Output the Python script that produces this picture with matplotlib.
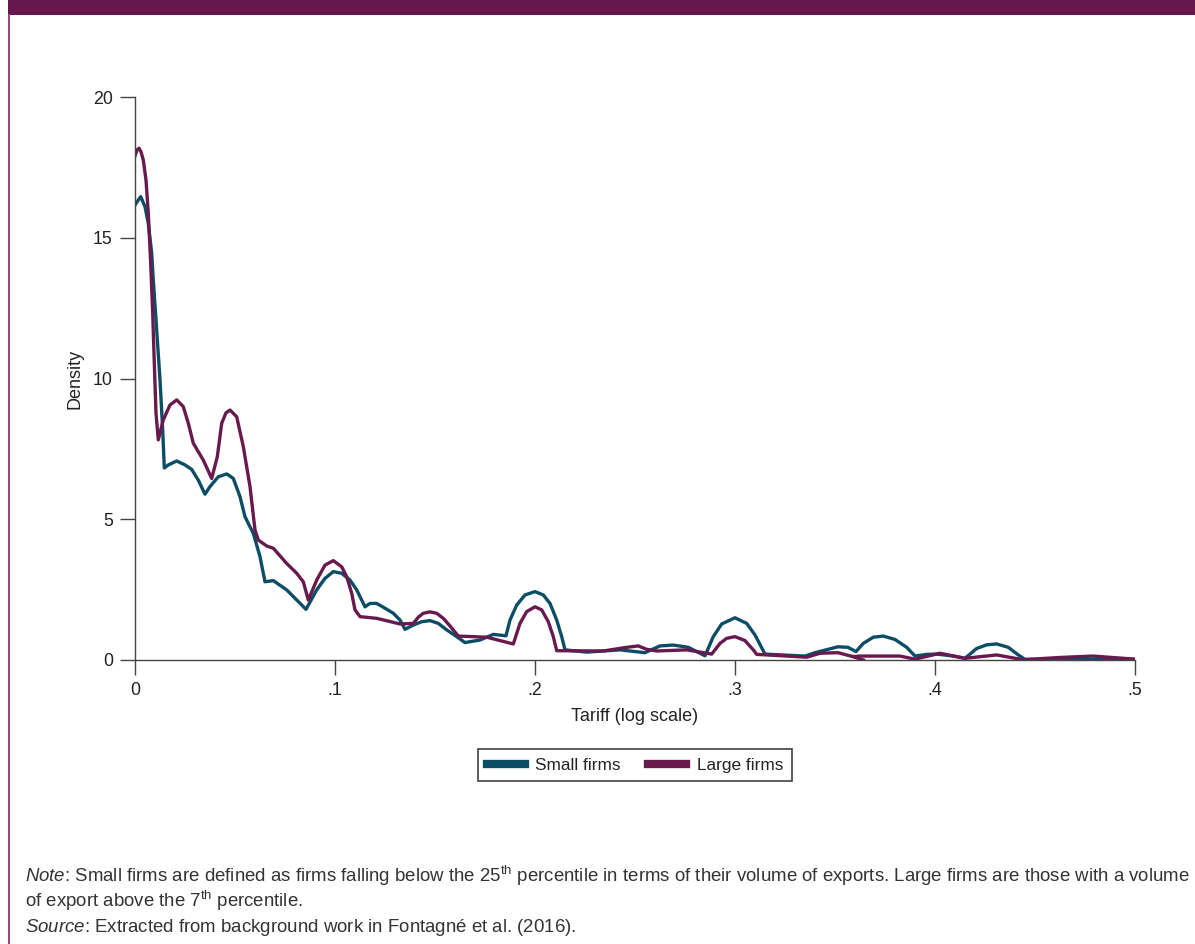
import matplotlib
matplotlib.use("Agg")
import matplotlib.pyplot as plt
from matplotlib.patches import Rectangle
from matplotlib.lines import Line2D

plt.rcParams["font.family"] = ["Liberation Sans", "DejaVu Sans"]
plt.rcParams["mathtext.fontset"] = "custom"
plt.rcParams["mathtext.rm"] = "Liberation Sans"
plt.rcParams["mathtext.it"] = "Liberation Sans:italic"

# kernel density of tariffs, small exporters
small_x = [0.0, 0.00165, 0.00285, 0.005, 0.00665, 0.00835, 0.00915, 0.01085, 0.0125, 0.01385,
           0.01465, 0.01665, 0.02085, 0.025, 0.02835, 0.03165, 0.035, 0.0375, 0.04165, 0.04585,
           0.04915, 0.0525, 0.055, 0.05915, 0.0625, 0.065, 0.06915, 0.07585, 0.0855, 0.09085,
           0.095, 0.09915, 0.10335, 0.1075, 0.11085, 0.115, 0.1175, 0.12085, 0.125, 0.12915,
           0.1325, 0.135, 0.13915, 0.14335, 0.1475, 0.15165, 0.15585, 0.16085, 0.165, 0.1725,
           0.17915, 0.1855, 0.1875, 0.19085, 0.195, 0.2, 0.20415, 0.2075, 0.21085, 0.21335,
           0.215, 0.22585, 0.2425, 0.255, 0.2625, 0.26915, 0.27665, 0.285, 0.28915, 0.29335,
           0.3, 0.30585, 0.31, 0.315, 0.335, 0.34, 0.3455, 0.3515, 0.3565, 0.3605,
           0.36415, 0.36915, 0.37415, 0.38, 0.38585, 0.39, 0.39585, 0.40085, 0.40915, 0.415,
           0.42085, 0.42585, 0.43085, 0.43665, 0.44165, 0.445, 0.4725, 0.5]
small_y = [16.16, 16.34, 16.46, 16.10, 15.51, 14.45, 13.50, 11.72, 9.95, 8.17,
           6.82, 6.93, 7.07, 6.93, 6.77, 6.39, 5.89, 6.16, 6.51, 6.61,
           6.45, 5.80, 5.09, 4.50, 3.67, 2.78, 2.82, 2.49, 1.80, 2.49,
           2.90, 3.14, 3.08, 2.84, 2.49, 1.89, 2.01, 2.01, 1.84, 1.66,
           1.42, 1.09, 1.24, 1.36, 1.40, 1.30, 1.07, 0.83, 0.62, 0.71,
           0.91, 0.86, 1.42, 1.95, 2.31, 2.43, 2.31, 2.01, 1.42, 0.83,
           0.36, 0.28, 0.36, 0.26, 0.50, 0.53, 0.45, 0.15, 0.83, 1.28,
           1.50, 1.30, 0.89, 0.21, 0.14, 0.26, 0.36, 0.47, 0.45, 0.30,
           0.59, 0.81, 0.85, 0.73, 0.45, 0.14, 0.20, 0.21, 0.14, 0.06,
           0.41, 0.54, 0.57, 0.45, 0.18, 0.02, 0.03, 0.02]

# kernel density of tariffs, large exporters
large_x = [0.0, 0.001, 0.002, 0.003, 0.00415, 0.0055, 0.00665, 0.00785, 0.00885, 0.00965,
           0.0105, 0.01165, 0.01415, 0.0175, 0.02085, 0.02415, 0.02665, 0.02915, 0.03415, 0.03835,
           0.04115, 0.04335, 0.0455, 0.0475, 0.05085, 0.05415, 0.0575, 0.06, 0.06165, 0.06585,
           0.06915, 0.07585, 0.08085, 0.08415, 0.08665, 0.09085, 0.095, 0.09915, 0.10335, 0.10585,
           0.10835, 0.11, 0.1125, 0.12085, 0.1325, 0.13915, 0.14165, 0.14415, 0.1475, 0.15085,
           0.15415, 0.1575, 0.16165, 0.17585, 0.18915, 0.1925, 0.19585, 0.2, 0.20335, 0.20665,
           0.20915, 0.21085, 0.23415, 0.24585, 0.25165, 0.25585, 0.26085, 0.27585, 0.28835, 0.2925,
           0.29585, 0.3, 0.305, 0.30915, 0.31085, 0.33585, 0.3425, 0.3515, 0.359, 0.3625,
           0.3825, 0.39, 0.4025, 0.415, 0.43085, 0.444, 0.4625, 0.479, 0.5]
large_y = [17.90, 18.12, 18.18, 18.05, 17.76, 17.05, 15.87, 14.09, 12.32, 10.54,
           8.76, 7.82, 8.53, 9.06, 9.24, 9.00, 8.41, 7.70, 7.10, 6.45,
           7.22, 8.41, 8.78, 8.88, 8.64, 7.58, 6.16, 4.62, 4.26, 4.05,
           3.97, 3.43, 3.08, 2.78, 2.13, 2.84, 3.37, 3.53, 3.31, 2.96,
           2.37, 1.78, 1.54, 1.48, 1.28, 1.30, 1.52, 1.66, 1.71, 1.66,
           1.48, 1.21, 0.85, 0.81, 0.57, 1.30, 1.72, 1.89, 1.78, 1.36,
           0.83, 0.33, 0.32, 0.45, 0.50, 0.38, 0.32, 0.36, 0.21, 0.59,
           0.77, 0.83, 0.69, 0.36, 0.20, 0.10, 0.24, 0.26, 0.12, 0.14,
           0.14, 0.03, 0.24, 0.06, 0.18, 0.01, 0.09, 0.14, 0.03]

# short stray piece of the large-firm curve near .36
large_tail_x = [0.359, 0.3642]
large_tail_y = [0.12, 0.0]

x_ticks = [0, 0.1, 0.2, 0.3, 0.4, 0.5]
x_tick_labels = ["0", ".1", ".2", ".3", ".4", ".5"]
y_ticks = [0, 5, 10, 15, 20]

BLUE = "#0c4d66"
PURPLE = "#681a4f"
INK = "#222222"

fig = plt.figure(figsize=(11.95, 9.44), dpi=100)

# header band and left rule
fig.patches.append(Rectangle((8 / 1195, 1 - 15 / 944), 1, 15 / 944, transform=fig.transFigure,
                             facecolor="#66184e", edgecolor="none", zorder=0))
fig.add_artist(Line2D([9 / 1195, 9 / 1195], [0, 1 - 15 / 944], transform=fig.transFigure,
                      color="#8e4f80", lw=1.5))

ax = fig.add_axes([135 / 1195, 1 - 660 / 944, 1000 / 1195, 563 / 944])
ax.plot(small_x, small_y, color=BLUE, lw=2.4, solid_joinstyle="round", label="Small firms")
ax.plot(large_x, large_y, color=PURPLE, lw=2.4, solid_joinstyle="round", label="Large firms")
ax.plot(large_tail_x, large_tail_y, color=PURPLE, lw=2.4)

ax.set_xlim(0, 0.5)
ax.set_ylim(0, 20)
ax.set_xticks(x_ticks)
ax.set_xticklabels(x_tick_labels)
ax.set_yticks(y_ticks)
for s in ["top", "right"]:
    ax.spines[s].set_visible(False)
for s in ["left", "bottom"]:
    ax.spines[s].set_color("#444444")
    ax.spines[s].set_linewidth(1.0)
ax.tick_params(direction="out", length=11, width=1.0, color="#444444",
               labelsize=12.8, labelcolor=INK, pad=5)
ax.set_xlabel("Tariff (log scale)", fontsize=13, color=INK, labelpad=6)
ax.set_ylabel("Density", fontsize=13, color=INK, labelpad=7)

handles = [Line2D([], [], color=BLUE, lw=6), Line2D([], [], color=PURPLE, lw=6)]
leg = fig.legend(handles, ["Small firms", "Large firms"], loc="center",
                 bbox_to_anchor=(635 / 1195, 1 - 765 / 944), ncol=2, fontsize=12.4,
                 frameon=True, fancybox=False, edgecolor="#111111", handlelength=2.2,
                 handletextpad=0.6, columnspacing=1.6, borderpad=0.5)
leg.get_frame().set_linewidth(1.2)
for t in leg.get_texts():
    t.set_color(INK)

note_kw = dict(fontsize=13.45, color="#333333", ha="left", va="center")
fig.text(25 / 1195, 1 - 876 / 944,
         r"$\mathit{Note}$: Small firms are defined as firms falling below the 25$^{\mathrm{th}}$ percentile "
         r"in terms of their volume of exports. Large firms are those with a volume", **note_kw)
fig.text(25 / 1195, 1 - 901 / 944, r"of export above the 7$^{\mathrm{th}}$ percentile.", **note_kw)
fig.text(25 / 1195, 1 - 927 / 944,
         r"$\mathit{Source}$: Extracted from background work in Fontagné et al. (2016).", **note_kw)

fig.savefig("out.png", dpi=100)
